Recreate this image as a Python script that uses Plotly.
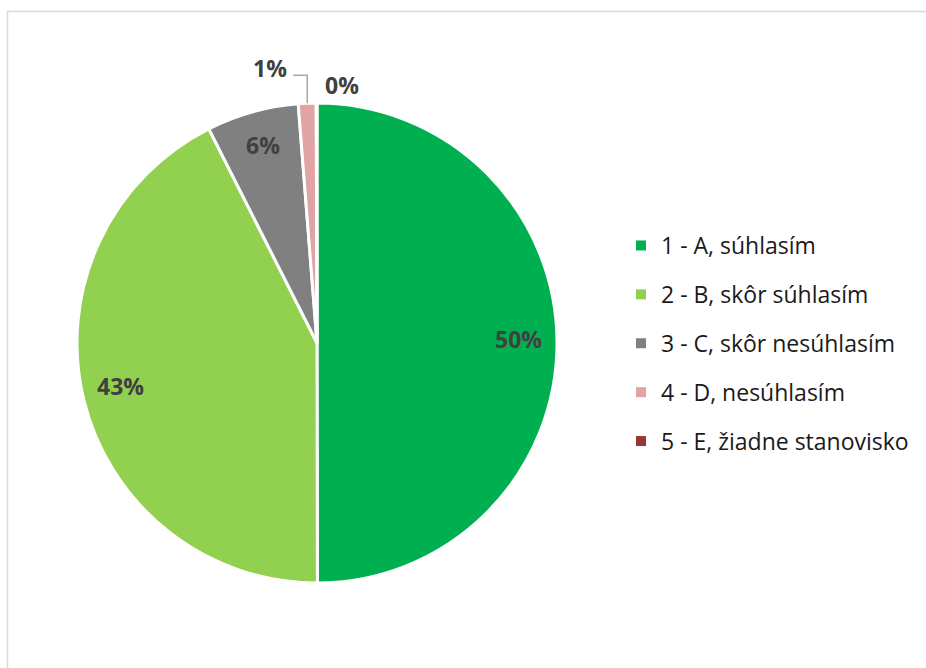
import math
import plotly.graph_objects as go

categories = ["1 - A, súhlasím", "2 - B, skôr súhlasím", "3 - C, skôr nesúhlasím",
              "4 - D, nesúhlasím", "5 - E, žiadne stanovisko"]
values = [50.0, 42.6, 6.2, 1.2, 0.05]
pct_labels = ["50%", "43%", "6%", "1%", "0%"]
colors = ["#00B050", "#92D050", "#808080", "#E0A4A4", "#953735"]

W, H = 926, 668
CX, CY, R = 317, 343, 240


def px(x):
    return x / W


def py(y):
    return 1 - y / H


fig = go.Figure()
fig.add_trace(go.Pie(
    labels=categories, values=values, sort=False, direction="clockwise", rotation=0,
    marker=dict(colors=colors, line=dict(color="white", width=3)),
    textinfo="none", hoverinfo="label+percent", showlegend=False,
    domain=dict(x=[px(CX - R), px(CX + R)], y=[py(CY + R), py(CY - R)]),
))

# legend entries as dummy traces (one group each, for spacing)
for i, (c, col) in enumerate(zip(categories, colors)):
    fig.add_trace(go.Scatter(x=[None], y=[None], mode="markers", name=c,
                             marker=dict(symbol="square", size=10, color=col),
                             legendgroup=str(i), showlegend=True))

# data labels computed from values
total = sum(values)
cum = 0
annotations = []
shapes = []
font = dict(family="Open Sans", size=23, color="#404040", weight="bold")
for i, v in enumerate(values):
    mid = (cum + v / 2) / total * 2 * math.pi
    cum += v
    if v / total > 0.03:
        rl = 0.84 * R
        x = CX + rl * math.sin(mid)
        y = CY - rl * math.cos(mid) - 4
        annotations.append(dict(x=px(x), y=py(y), xref="paper", yref="paper",
                                xanchor="center", yanchor="middle",
                                text=pct_labels[i], showarrow=False, font=font))
    elif i == 3:
        x0 = CX + R * math.sin(mid)
        y0 = CY - R * math.cos(mid)
        ytop = y0 - 28
        shapes.append(dict(type="path", xref="paper", yref="paper",
                           path=f"M {px(x0)},{py(y0)} L {px(x0)},{py(ytop)} L {px(x0 - 14)},{py(ytop)}",
                           line=dict(color="#A6A6A6", width=1.5)))
        annotations.append(dict(x=px(x0 - 18), y=py(ytop - 7), xref="paper", yref="paper",
                                xanchor="right", yanchor="middle",
                                text=pct_labels[i], showarrow=False, font=font))
    else:
        x0 = CX + R * math.sin(mid)
        annotations.append(dict(x=px(x0 + 6), y=py(CY - R - 18), xref="paper", yref="paper",
                                xanchor="left", yanchor="middle",
                                text=pct_labels[i], showarrow=False, font=font))

# chart border
shapes.append(dict(type="rect", xref="paper", yref="paper",
                   x0=px(7.5), x1=1.01, y0=-0.01, y1=py(11.5),
                   line=dict(color="#D9D9D9", width=1.5)))

fig.update_layout(
    width=W, height=H, margin=dict(l=0, r=0, t=0, b=0),
    paper_bgcolor="white", plot_bgcolor="white",
    xaxis=dict(visible=False), yaxis=dict(visible=False),
    annotations=annotations, shapes=shapes,
    legend=dict(x=px(621), y=py(224), xanchor="left", yanchor="top",
                tracegroupgap=16, font=dict(family="Open Sans", size=23, color="#1a1a1a"),
                itemclick=False, itemdoubleclick=False),
)

fig.write_html("out.html", config={"displayModeBar": False},
               post_script="document.body.style.margin='0';document.body.style.overflow='hidden';")
